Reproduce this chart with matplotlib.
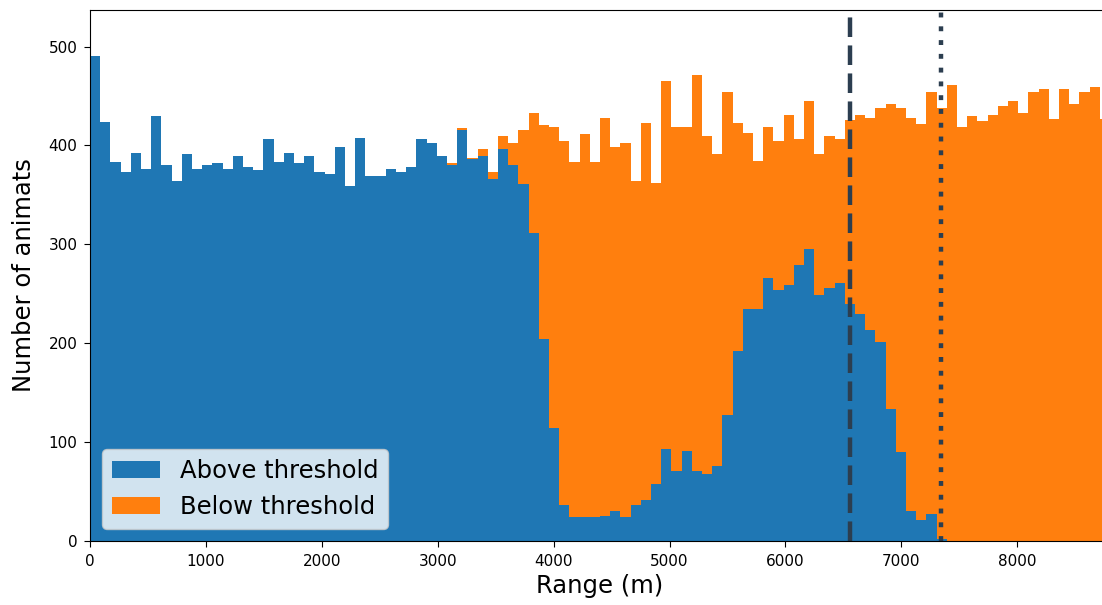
import numpy as np
import matplotlib.pyplot as plt

# histogram counts per range bin (100 bins of 88 m, 0 - 8800 m)
bin_edges = np.linspace(0, 8800, 101)

above = [490, 424, 383, 373, 392, 376, 430, 380, 364, 391,
         376, 380, 382, 376, 389, 378, 375, 407, 383, 392,
         382, 389, 373, 371, 398, 359, 408, 369, 369, 376,
         373, 378, 407, 403, 389, 380, 416, 386, 389, 366,
         396, 380, 361, 311, 204, 114, 36, 24, 24, 24,
         25, 30, 24, 36, 41, 58, 93, 71, 91, 71,
         68, 76, 127, 192, 235, 235, 266, 254, 259, 279,
         295, 249, 256, 261, 240, 230, 213, 201, 133, 90,
         30, 21, 27, 2, 0, 0, 0, 0, 0, 0,
         0, 0, 0, 0, 0, 0, 0, 0, 0, 0]

below = [0, 0, 0, 0, 0, 0, 0, 0, 0, 0,
         0, 0, 0, 0, 0, 0, 0, 0, 0, 0,
         0, 0, 0, 0, 0, 0, 0, 0, 0, 0,
         0, 0, 0, 0, 0, 2, 2, 1, 7, 7,
         14, 23, 55, 122, 217, 305, 369, 359, 388, 359,
         403, 368, 379, 328, 382, 304, 372, 348, 328, 400,
         342, 315, 327, 231, 178, 149, 153, 151, 172, 128,
         150, 142, 154, 146, 186, 201, 215, 237, 309, 348,
         398, 401, 427, 436, 461, 419, 430, 425, 431, 440,
         445, 433, 454, 457, 427, 457, 442, 454, 459, 427]

labels = ['Above threshold', 'Below threshold']

# vertical markers (m)
dashed_x = 6555
dotted_x = 7343

centers = (bin_edges[:-1] + bin_edges[1:]) / 2

fig = plt.figure(figsize=(11.02, 6.05), dpi=100)
ax = fig.add_axes([90 / 1102, 64 / 605, 1020 / 1102, 531 / 605])

ax.hist([centers, centers], bins=bin_edges, weights=[above, below],
        stacked=True, label=labels, color=['#1f77b4', '#ff7f0e'])

ax.axvline(dashed_x, color='#2c3e50', lw=3.2, linestyle=(0, (4.4, 1.9)))
ax.axvline(dotted_x, color='#2c3e50', lw=3.2, linestyle=(0, (1.1, 2.0)))

ax.set_xlim(0, 8800)
ax.set_ylim(0, 537)
ax.set_xticks(np.arange(0, 9000, 1000))
ax.set_yticks(np.arange(0, 600, 100))
ax.tick_params(labelsize=11, length=4.5, pad=4.5)

ax.set_xlabel('Range (m)', fontsize=17.5, labelpad=4)
ax.set_ylabel('Number of animats', fontsize=17.5, labelpad=9)
ax.legend(loc='lower left', fontsize=17.5)

fig.savefig('out.png', dpi=100)
